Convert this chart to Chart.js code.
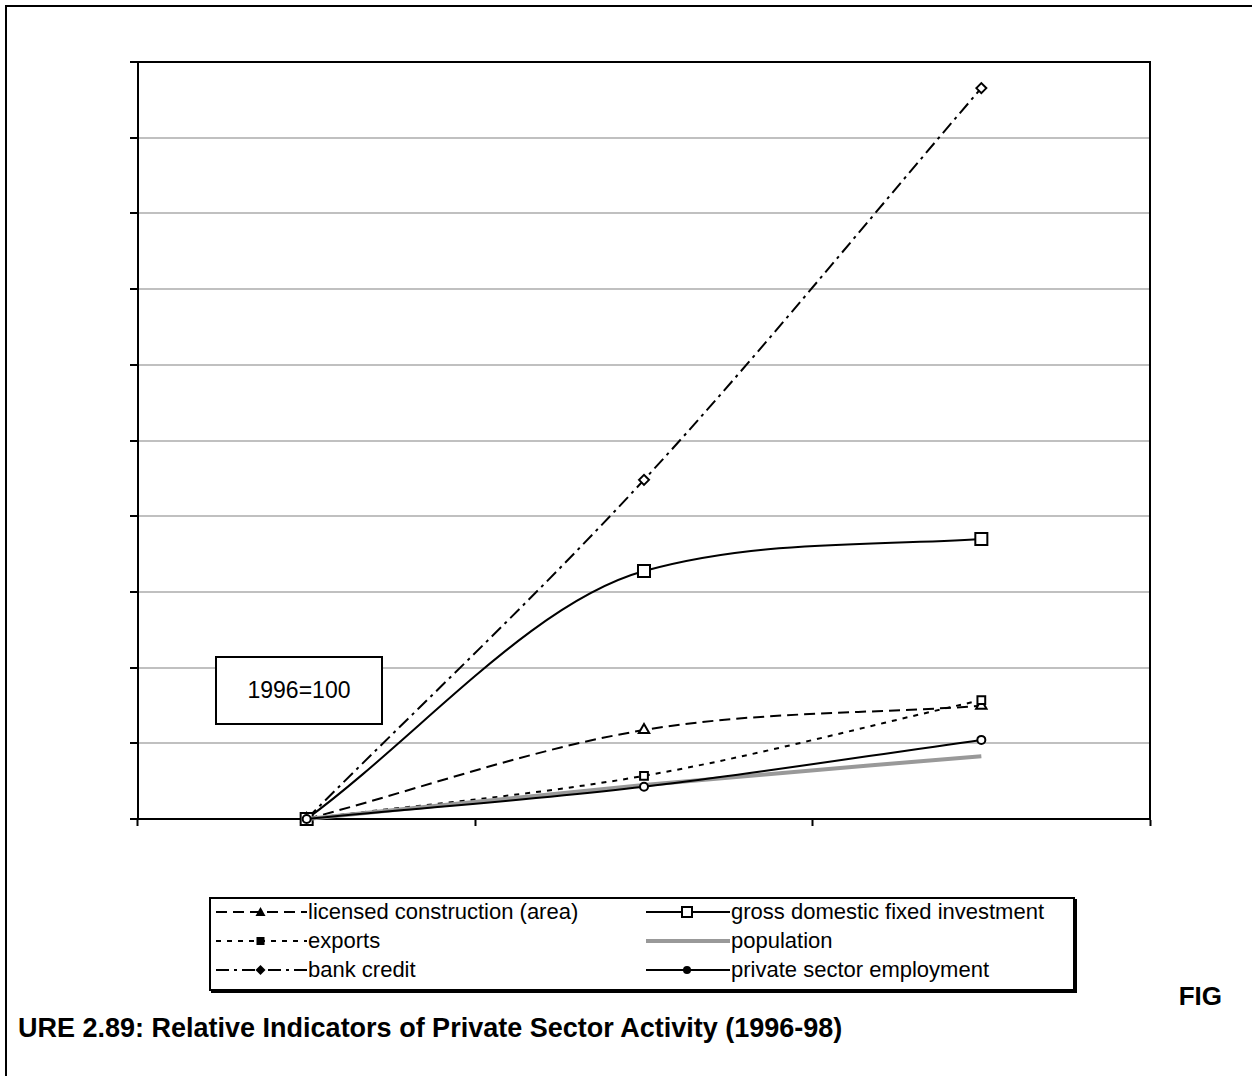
<!DOCTYPE html>
<html>
<head>
<meta charset="utf-8">
<script src="https://cdn.jsdelivr.net/npm/chart.js"></script>
<style>
  body { margin: 0; background: #fff; font-family: "Liberation Sans", Arial, sans-serif; }
  #page { position: relative; width: 1252px; height: 1076px; overflow: hidden; }
  #frame { position: absolute; left: 5px; top: 5px; width: 1300px; height: 1100px; border-left: 2px solid #000; border-top: 2px solid #000; }
  #wrap { position: absolute; left: 0; top: 0; width: 1252px; height: 850px; }
  #note { position: absolute; left: 215px; top: 656px; width: 164px; height: 65px; border: 2px solid #000; background: #fff;
          font-size: 23px; text-align: center; line-height: 65px; }
  #legend { position: absolute; left: 209px; top: 897px; width: 862px; height: 90px; border: 2px solid #000;
            box-shadow: 2px 2px 0 #000; background: #fff; }
  .item { position: absolute; height: 28px; font-size: 22px; line-height: 28px; white-space: nowrap; }
  .item svg { position: absolute; left: 0; top: 0; }
  .item span { position: absolute; top: 0; }
  #fig { position: absolute; right: 30px; top: 981px; font-size: 26px; font-weight: bold; }
  #title { position: absolute; left: 18px; top: 1013px; font-size: 27px; font-weight: bold; white-space: nowrap; }
</style>
</head>
<body>
<div id="page">
  <div id="frame"></div>
  <div id="wrap"><canvas id="myChart"></canvas></div>
  <div id="note">1996=100</div>
  <div id="legend"></div>
  <div id="fig">FIG</div>
  <div id="title">URE 2.89: Relative Indicators of Private Sector Activity (1996-98)</div>
</div>
<script>
const years = ["1996", "1997", "1998"];
const licensedConstruction = [100, 123.5, 129.9];
const grossFixedInvestment = [100, 165.5, 174];
const exportsIdx = [100, 111.4, 131.4];
const population = [100, 109, 116.6];
const bankCredit = [100, 189.6, 293.1];
const privateEmployment = [100, 108.5, 120.9];

const datasets = [
  { label: "licensed construction (area)", data: licensedConstruction, borderDash: [11, 6], pointStyle: "triangle", pointRadius: 6, borderColor: "#000", borderWidth: 2 },
  { label: "exports", data: exportsIdx, borderDash: [5, 6], pointStyle: "rect", pointRadius: 5.5, borderColor: "#000", borderWidth: 2 },
  { label: "bank credit", data: bankCredit, borderDash: [13, 5, 3, 5], pointStyle: "rectRot", pointRadius: 5, borderColor: "#000", borderWidth: 2 },
  { label: "gross domestic fixed investment", data: grossFixedInvestment, borderDash: [], pointStyle: "rect", pointRadius: 8.5, borderColor: "#000", borderWidth: 2 },
  { label: "population", data: population, borderDash: [], pointStyle: false, pointRadius: 0, borderColor: "#999", borderWidth: 4 },
  { label: "private sector employment", data: privateEmployment, borderDash: [], pointStyle: "circle", pointRadius: 4, borderColor: "#000", borderWidth: 2 }
];

datasets.forEach(d => {
  d.pointBackgroundColor = "#fff";
  d.pointBorderColor = "#000";
  d.pointBorderWidth = 2;
  d.fill = false;
  d.clip = false;
  d.cubicInterpolationMode = "monotone";
});

const plotFrame = {
  id: "plotFrame",
  afterDraw(chart) {
    const a = chart.chartArea, ctx = chart.ctx;
    ctx.save();
    ctx.strokeStyle = "#000";
    ctx.lineWidth = 2;
    ctx.beginPath();
    ctx.moveTo(a.left, a.top);
    ctx.lineTo(a.right, a.top);
    ctx.lineTo(a.right, a.bottom);
    ctx.stroke();
    ctx.restore();
  }
};

new Chart(document.getElementById("myChart"), {
  type: "line",
  data: { labels: years, datasets: datasets.slice().reverse() },
  options: {
    responsive: true,
    maintainAspectRatio: false,
    animation: false,
    layout: { padding: { left: 130, top: 62, right: 102, bottom: 24 } },
    plugins: { legend: { display: false }, tooltip: { enabled: false } },
    scales: {
      x: {
        offset: true,
        grid: { offset: true, drawOnChartArea: false, drawTicks: true, tickLength: 7, tickColor: "#000", tickWidth: 2 },
        border: { color: "#000", width: 2 },
        ticks: { display: false }
      },
      y: {
        min: 100, max: 300,
        ticks: { display: false, stepSize: 20 },
        grid: { color: "#c0c0c0", lineWidth: 2, tickLength: 8, tickColor: "#000", tickWidth: 2 },
        border: { color: "#000", width: 2 }
      }
    }
  },
  plugins: [plotFrame]
});

// legend drawn from the same dataset styles
function markerSvg(d, cx, cy) {
  if (!d.pointStyle) return "";
  if (d.pointStyle === "triangle") return `<polygon points="${cx},${cy - 5} ${cx - 5},${cy + 4} ${cx + 5},${cy + 4}" fill="#000"/>`;
  if (d.pointStyle === "rectRot") return `<polygon points="${cx},${cy - 5} ${cx + 5},${cy} ${cx},${cy + 5} ${cx - 5},${cy}" fill="#000"/>`;
  if (d.pointStyle === "circle") return `<circle cx="${cx}" cy="${cy}" r="4" fill="#000"/>`;
  if (d.pointRadius > 7) return `<rect x="${cx - 5}" y="${cy - 5}" width="10" height="10" fill="#fff" stroke="#000" stroke-width="2"/>`;
  return `<rect x="${cx - 4}" y="${cy - 4}" width="8" height="8" fill="#000"/>`;
}
const legend = document.getElementById("legend");
datasets.forEach((d, i) => {
  const col = i < 3 ? 0 : 1, row = i % 3;
  const el = document.createElement("div");
  el.className = "item";
  el.style.left = (col ? 433 : 3) + "px";
  el.style.top = (-1 + row * 29) + "px";
  const w = col ? 86 : 93;
  el.innerHTML = `<svg width="${w}" height="28"><line x1="2" y1="14" x2="${w}" y2="14" stroke="${d.borderColor}" stroke-width="${d.borderWidth}" stroke-dasharray="${d.borderDash.join(" ")}"/>${markerSvg(d, w / 2, 14)}</svg><span style="left:${w + 1}px">${d.label}</span>`;
  legend.appendChild(el);
});
</script>
</body>
</html>
